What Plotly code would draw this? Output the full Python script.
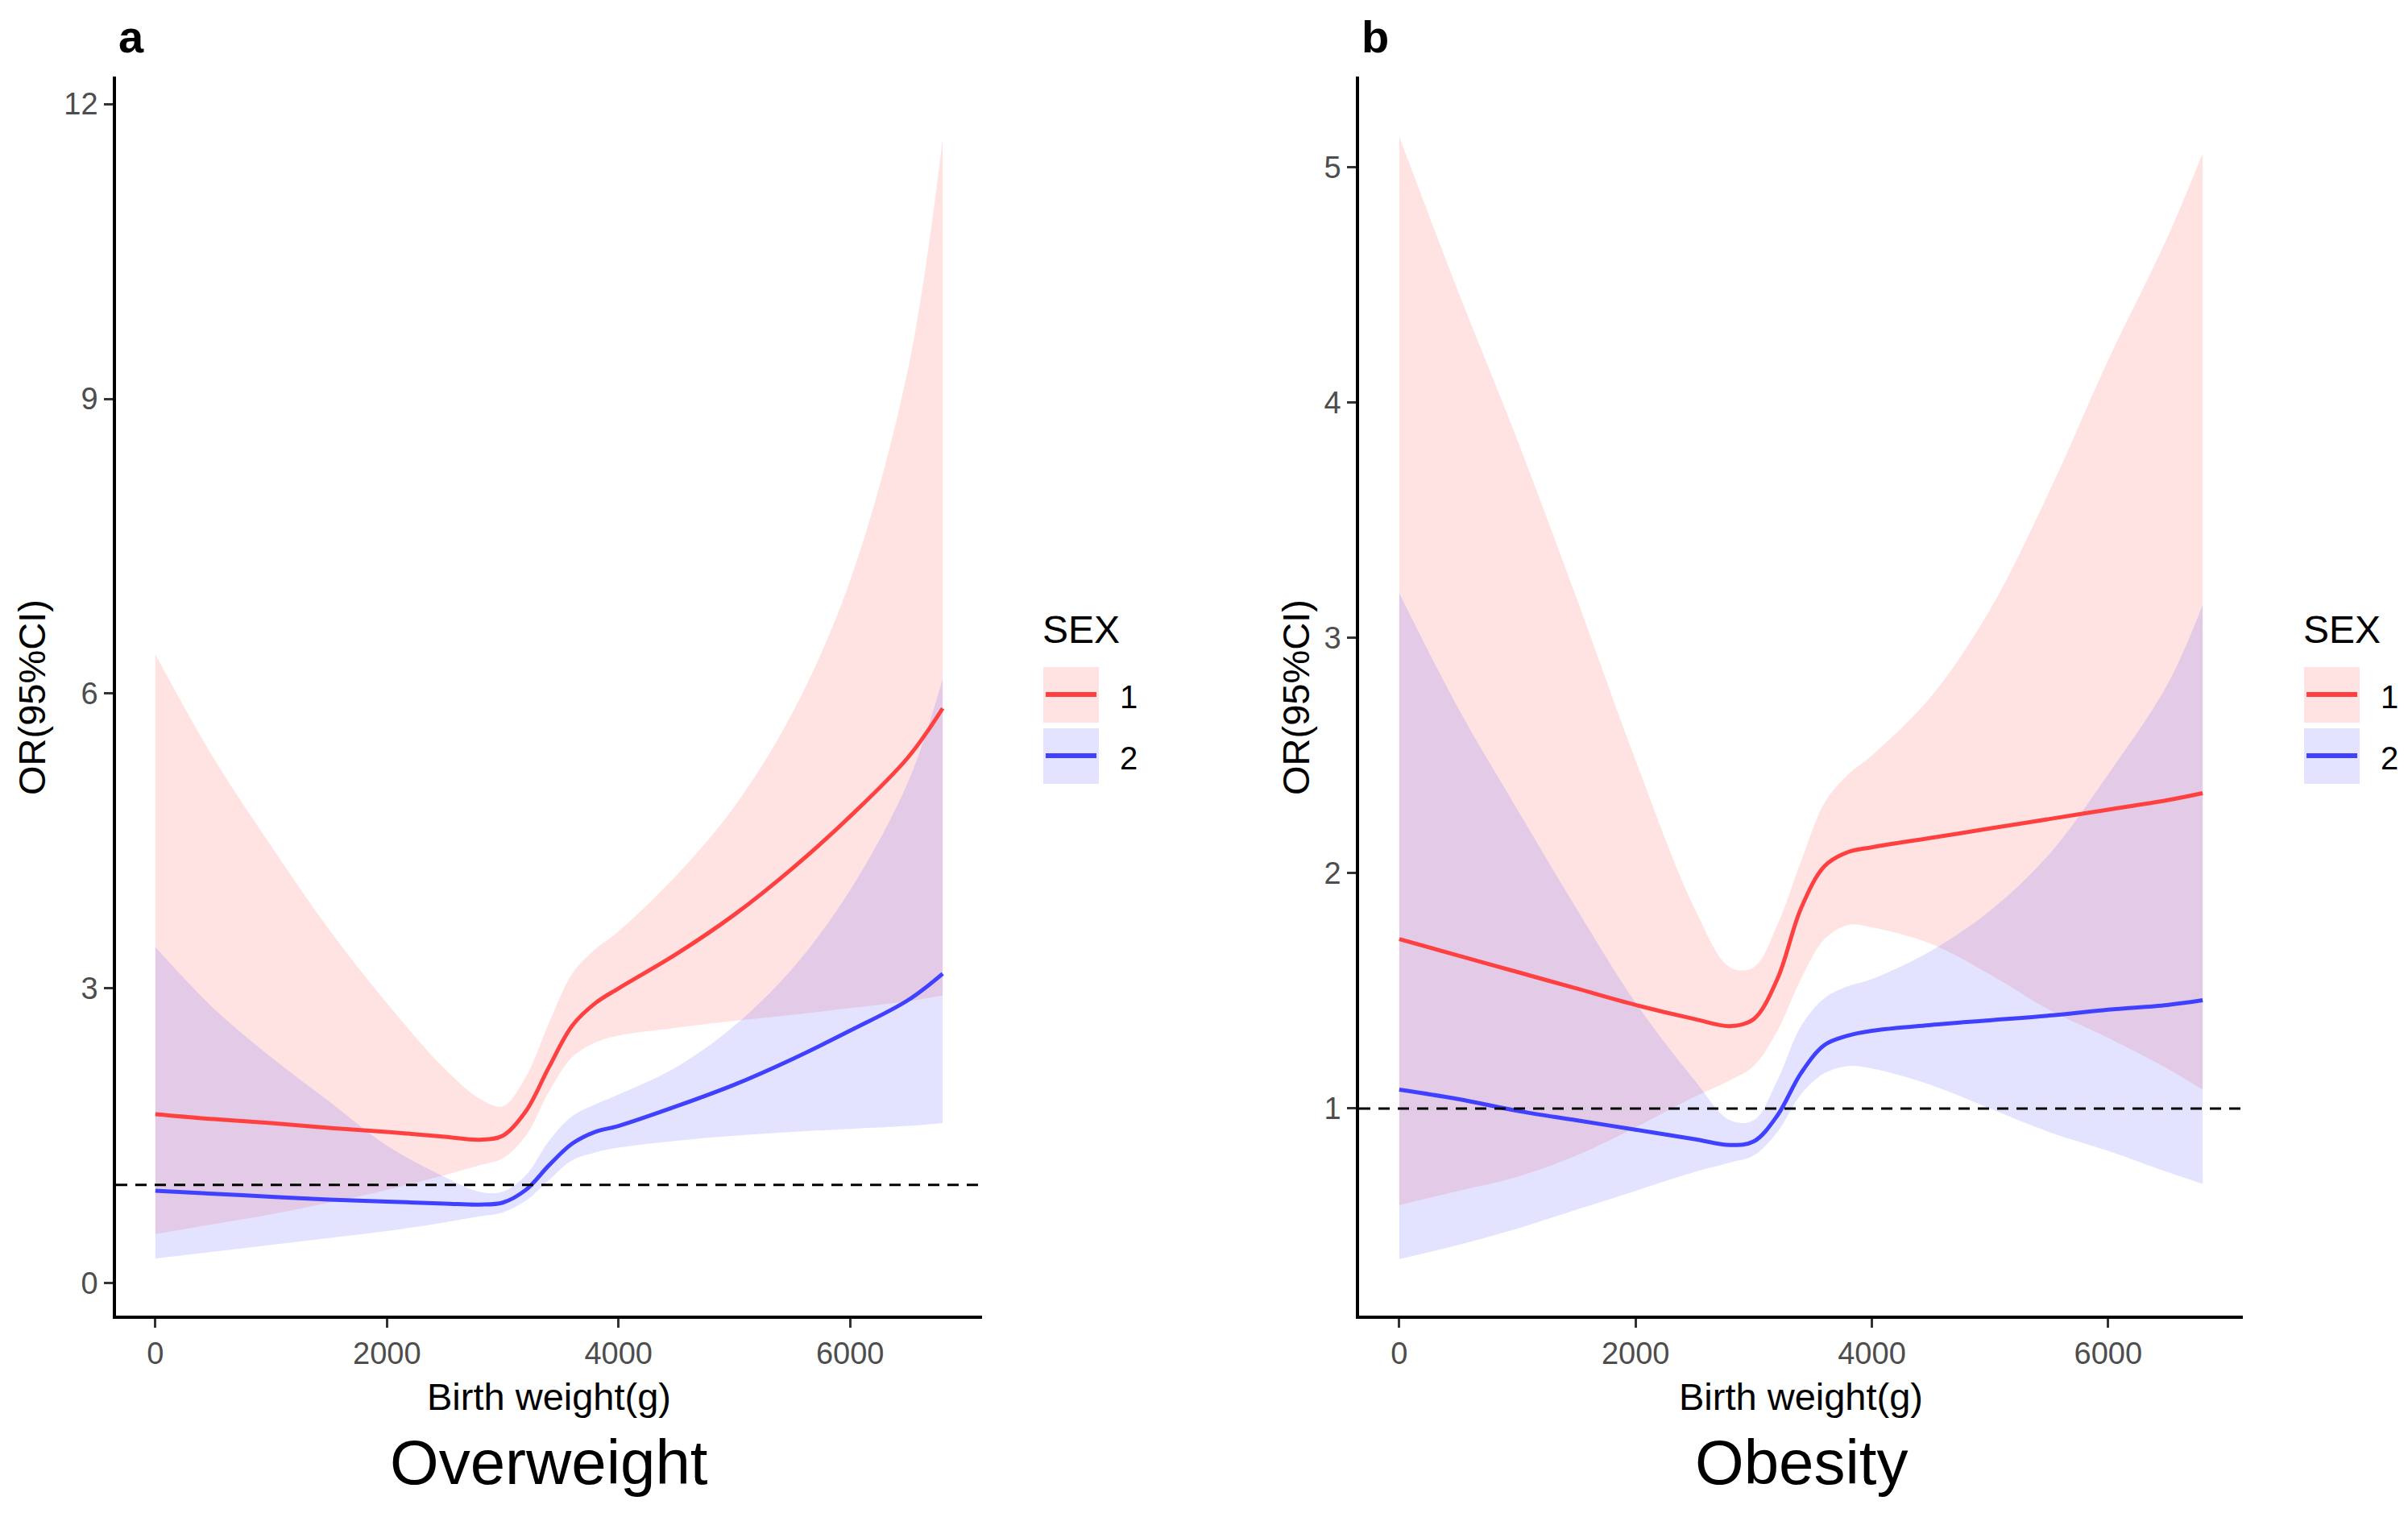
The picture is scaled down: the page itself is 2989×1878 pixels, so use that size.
import plotly.graph_objects as go

W, H = 2989, 1878

# ---------------- data ----------------
birth_weight = [0, 500, 1000, 1500, 2000, 2500, 2800, 3000, 3200, 3400,
                3600, 3800, 4000, 4500, 5000, 5500, 6000, 6500, 6800]

# Panel a: Overweight
ow_sex1_or = [1.72, 1.67, 1.63, 1.58, 1.54, 1.49, 1.46, 1.50, 1.75, 2.20,
              2.62, 2.85, 3.00, 3.35, 3.75, 4.22, 4.75, 5.35, 5.85]
ow_sex1_hi = [6.40, 5.35, 4.45, 3.60, 2.85, 2.18, 1.88, 1.80, 2.10, 2.65,
              3.15, 3.40, 3.58, 4.15, 4.85, 5.80, 7.15, 9.30, 11.65]
ow_sex1_lo = [0.50, 0.60, 0.70, 0.82, 0.95, 1.10, 1.20, 1.27, 1.50, 1.95,
              2.30, 2.45, 2.52, 2.60, 2.67, 2.73, 2.80, 2.87, 2.93]
ow_sex2_or = [0.94, 0.91, 0.88, 0.85, 0.83, 0.81, 0.80, 0.82, 0.95, 1.20,
              1.42, 1.54, 1.60, 1.80, 2.02, 2.28, 2.57, 2.88, 3.15]
ow_sex2_hi = [3.42, 2.80, 2.30, 1.85, 1.40, 1.08, 0.93, 0.93, 1.10, 1.45,
              1.70, 1.82, 1.92, 2.20, 2.62, 3.20, 4.00, 5.10, 6.15]
ow_sex2_lo = [0.25, 0.32, 0.39, 0.46, 0.53, 0.62, 0.68, 0.72, 0.84, 1.05,
              1.25, 1.33, 1.38, 1.45, 1.50, 1.54, 1.57, 1.60, 1.63]

# Panel b: Obesity
ob_sex1_or = [1.72, 1.65, 1.58, 1.51, 1.44, 1.38, 1.35, 1.38, 1.55, 1.85,
              2.03, 2.09, 2.11, 2.15, 2.19, 2.23, 2.27, 2.31, 2.34]
ob_sex1_hi = [5.13, 4.47, 3.84, 3.17, 2.48, 1.85, 1.60, 1.60, 1.78, 2.05,
              2.30, 2.42, 2.50, 2.75, 3.12, 3.62, 4.18, 4.70, 5.06]
ob_sex1_lo = [0.59, 0.65, 0.71, 0.80, 0.92, 1.05, 1.12, 1.18, 1.33, 1.55,
              1.72, 1.78, 1.77, 1.70, 1.57, 1.42, 1.30, 1.17, 1.08]
ob_sex2_or = [1.08, 1.04, 0.99, 0.95, 0.91, 0.87, 0.845, 0.86, 0.97, 1.15,
              1.27, 1.31, 1.33, 1.355, 1.375, 1.395, 1.42, 1.44, 1.46]
ob_sex2_hi = [3.19, 2.70, 2.27, 1.85, 1.45, 1.12, 0.95, 0.95, 1.12, 1.35,
              1.47, 1.52, 1.55, 1.67, 1.84, 2.08, 2.42, 2.80, 3.14]
ob_sex2_lo = [0.36, 0.42, 0.49, 0.57, 0.65, 0.73, 0.77, 0.80, 0.90, 1.06,
              1.15, 1.18, 1.17, 1.10, 1.00, 0.90, 0.82, 0.73, 0.68]

x_ticks = [0, 2000, 4000, 6000]
y_ticks_a = [0, 3, 6, 9, 12]
y_ticks_b = [1, 2, 3, 4, 5]
sex_levels = ["1", "2"]
ref_or = 1
panel_titles = ["Overweight", "Obesity"]
panel_tags = ["a", "b"]
x_title = "Birth weight(g)"
y_title = "OR(95%CI)"
legend_title = "SEX"

# ---------------- styling ----------------
FONT = "Liberation Sans, Arial, sans-serif"
LINE_COL = {"1": "#FF4040", "2": "#4040FF"}
FILL_COL = {"1": "rgba(255,0,0,0.11)", "2": "rgba(0,0,255,0.11)"}
KEY_FILL = {"1": "#FFE3E3", "2": "#E3E3FF"}
SMOOTH = 1.0

fig = go.Figure()

panels = [
    ("x", "y", {"1": (ow_sex1_or, ow_sex1_lo, ow_sex1_hi),
                "2": (ow_sex2_or, ow_sex2_lo, ow_sex2_hi)}),
    ("x2", "y2", {"1": (ob_sex1_or, ob_sex1_lo, ob_sex1_hi),
                  "2": (ob_sex2_or, ob_sex2_lo, ob_sex2_hi)}),
]

for xa, ya, series in panels:
    # ribbons
    for s in sex_levels:
        orv, lo, hi = series[s]
        fig.add_trace(go.Scatter(x=birth_weight, y=lo, xaxis=xa, yaxis=ya,
                                 mode="lines", line=dict(width=0, shape="spline", smoothing=SMOOTH),
                                 showlegend=False, hoverinfo="skip"))
        fig.add_trace(go.Scatter(x=birth_weight, y=hi, xaxis=xa, yaxis=ya,
                                 mode="lines", line=dict(width=0, shape="spline", smoothing=SMOOTH),
                                 fill="tonexty", fillcolor=FILL_COL[s],
                                 showlegend=False, hoverinfo="skip"))
    for s in sex_levels:
        orv, lo, hi = series[s]
        fig.add_trace(go.Scatter(x=birth_weight, y=orv, xaxis=xa, yaxis=ya,
                                 mode="lines", name=s,
                                 line=dict(color=LINE_COL[s], width=5, shape="spline", smoothing=SMOOTH),
                                 showlegend=False))

# geometry in pixels (from reference)
ax_a = (144, 1219)
ax_b = (1687, 2784)
top_px, bot_px = 95, 1633


def px_x(p):
    return p / W


def px_y(p):
    return 1 - p / H


axis_common = dict(showgrid=False, zeroline=False, showline=True, linecolor="black",
                   linewidth=3.5, ticks="outside", ticklen=11, tickwidth=3,
                   tickcolor="#333333", tickfont=dict(family=FONT, size=38, color="#4D4D4D"))

fig.update_layout(
    width=W, height=H,
    margin=dict(l=0, r=0, t=0, b=0),
    paper_bgcolor="white", plot_bgcolor="white",
    showlegend=False,
    xaxis=dict(domain=[px_x(ax_a[0]), px_x(ax_a[1])], range=[-340, 7140],
               tickvals=x_ticks, anchor="y", **axis_common),
    yaxis=dict(domain=[px_y(bot_px), px_y(top_px)], range=[-0.33, 12.28],
               tickvals=y_ticks_a, anchor="x", **axis_common),
    xaxis2=dict(domain=[px_x(ax_b[0]), px_x(ax_b[1])], range=[-340, 7140],
                tickvals=x_ticks, anchor="y2", **axis_common),
    yaxis2=dict(domain=[px_y(bot_px), px_y(top_px)], range=[0.12, 5.385],
                tickvals=y_ticks_b, anchor="x2", **axis_common),
)

shapes = []
annotations = []
for i, (xa, ya) in enumerate([("x", "y"), ("x2", "y2")]):
    dom = "x domain" if xa == "x" else "x2 domain"
    shapes.append(dict(type="line", xref=dom, yref=ya, x0=0, x1=1, y0=ref_or, y1=ref_or,
                       line=dict(color="black", width=3, dash="14px,10px")))

for i, (ax, ycen_title) in enumerate([(ax_a, 39), (ax_b, 1608)]):
    cx = (ax[0] + ax[1]) / 2
    annotations.append(dict(text=x_title, x=px_x(cx), y=px_y(1733), xref="paper", yref="paper",
                            xanchor="center", yanchor="middle", showarrow=False,
                            font=dict(family=FONT, size=47, color="black")))
    annotations.append(dict(text=panel_titles[i], x=px_x(cx), y=px_y(1815), xref="paper", yref="paper",
                            xanchor="center", yanchor="middle", showarrow=False,
                            font=dict(family=FONT, size=78, color="black")))
    annotations.append(dict(text=y_title, x=px_x(ycen_title), y=px_y(866), xref="paper", yref="paper",
                            xanchor="center", yanchor="middle", showarrow=False, textangle=-90,
                            font=dict(family=FONT, size=47, color="black")))
    annotations.append(dict(text="<b>" + panel_tags[i] + "</b>", x=px_x(ax[0] + 1), y=px_y(46),
                            xref="paper", yref="paper", xanchor="left", yanchor="middle",
                            showarrow=False, font=dict(family=FONT, size=56, color="black")))
    # manual legend
    lx = ax[1] + 76
    annotations.append(dict(text=legend_title, x=px_x(lx - 3), y=px_y(781), xref="paper", yref="paper",
                            xanchor="left", yanchor="middle", showarrow=False,
                            font=dict(family=FONT, size=48, color="black")))
    key_tops = [828, 904]
    for k, s in enumerate(sex_levels):
        t = key_tops[k]
        shapes.append(dict(type="rect", xref="paper", yref="paper",
                           x0=px_x(lx), x1=px_x(lx + 69), y0=px_y(t + 69), y1=px_y(t),
                           fillcolor=KEY_FILL[s], line=dict(width=0), layer="above"))
        shapes.append(dict(type="line", xref="paper", yref="paper",
                           x0=px_x(lx + 3), x1=px_x(lx + 66), y0=px_y(t + 34), y1=px_y(t + 34),
                           line=dict(color=LINE_COL[s], width=6), layer="above"))
        annotations.append(dict(text=s, x=px_x(lx + 93), y=px_y(t + 37), xref="paper", yref="paper",
                                xanchor="left", yanchor="middle", showarrow=False,
                                font=dict(family=FONT, size=40, color="black")))

fig.update_layout(shapes=shapes, annotations=annotations)

fig.write_html("out.html", config={"displayModeBar": False},
               post_script="document.body.style.margin='0px';")
